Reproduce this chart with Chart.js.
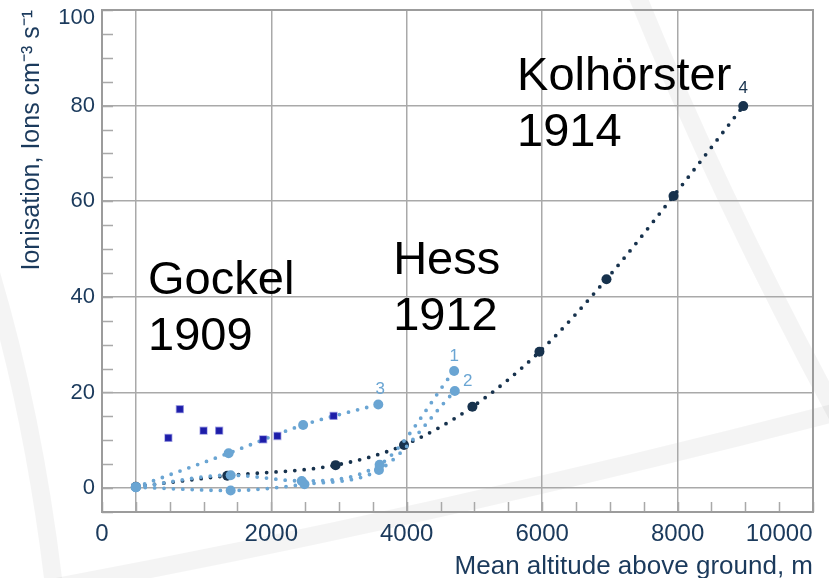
<!DOCTYPE html>
<html>
<head>
<meta charset="utf-8">
<script src="https://cdn.jsdelivr.net/npm/chart.js@4/dist/chart.umd.min.js"></script>
<style>
  html, body { margin: 0; padding: 0; background: #ffffff; }
  #wrap { width: 829px; height: 578px; position: relative; }
</style>
</head>
<body>
<div id="wrap"><canvas id="chart" width="829" height="578"></canvas></div>
<script>
// Balloon measurements of ionisation vs. mean altitude
const gockelAlt = [480, 650, 1000, 1230, 1880, 2090, 2920];
const gockelIon = [10.5, 16.5, 12.0, 12.0, 10.2, 10.9, 15.1];

const hess1Alt = [0, 1400, 2450, 3600, 4700];
const hess1Ion = [0.2, 2.7, 1.5, 4.9, 24.5];

const hess2Alt = [0, 1400, 2490, 3590, 4710];
const hess2Ion = [0.2, -0.5, 0.8, 3.8, 20.3];

const hess3Alt = [0, 1370, 2470, 3580];
const hess3Ion = [0.2, 7.3, 13.2, 17.5];

const kolAlt = [0, 1350, 2950, 3960, 4970, 5960, 6950, 7940, 8970];
const kolIon = [0.3, 2.6, 4.8, 9.0, 17.0, 28.5, 43.7, 61.1, 79.9];

const xTickLabels = ['0', '2000', '4000', '6000', '8000', '10000'];
const yTickLabels = ['0', '20', '40', '60', '80', '100'];

const seriesTags = ['1', '2', '3', '4'];
const groupNames = [['Gockel', '1909'], ['Hess', '1912'], ['Kolhörster', '1914']];

// colours and fonts
const DARK = '#17324d';
const LIGHT = '#6aa5d3';
const GOCKEL = '#1d1da8';
const AXIS_TEXT = '#1b3a5c';
const GRID = '#a9a9a9';
const FONT = '"Liberation Sans", Arial, Helvetica, sans-serif';
const NONE = 'rgba(0,0,0,0)';

const toPoints = (xs, ys) => xs.map((x, i) => ({ x: x, y: ys[i] }));

const dottedSeries = (label, xs, ys, color) => ({
  label: label,
  data: toPoints(xs, ys),
  showLine: true,
  borderColor: color,
  backgroundColor: color,
  borderWidth: 3.8,
  borderDash: [0, 9.4],
  borderCapStyle: 'round',
  cubicInterpolationMode: 'monotone',
  pointRadius: 5,
  pointHoverRadius: 5,
  pointBackgroundColor: color,
  pointBorderWidth: 0
});

// x value under each x tick label: the end labels sit at the frame edges,
// "0" centred on the left edge and "10000" ending at the right edge
const xLabelValue = (i, scale) => {
  if (i === 0) return scale.min;
  if (i === xTickLabels.length - 1) return scale.max - 500;
  return i * 2000;
};

// faint watermark arcs behind the plot, minor ticks, frame and annotations
const decorations = {
  id: 'decorations',
  beforeDraw(chart) {
    const ctx = chart.ctx;
    ctx.save();
    ctx.fillStyle = '#ffffff';
    ctx.fillRect(0, 0, chart.width, chart.height);
    ctx.strokeStyle = 'rgba(0,0,0,0.045)';
    ctx.lineWidth = 18;
    ctx.lineCap = 'butt';
    ctx.beginPath();
    ctx.moveTo(40, 590);
    ctx.quadraticCurveTo(420, 520, 845, 410);
    ctx.stroke();
    ctx.beginPath();
    ctx.moveTo(-10, 270);
    ctx.quadraticCurveTo(35, 420, 55, 595);
    ctx.stroke();
    ctx.beginPath();
    ctx.moveTo(635, -10);
    ctx.quadraticCurveTo(720, 200, 845, 430);
    ctx.stroke();
    ctx.restore();
  },
  beforeDatasetsDraw(chart) {
    const ctx = chart.ctx;
    const a = chart.chartArea;
    const xs = chart.scales.x, ys = chart.scales.y;
    ctx.save();
    ctx.strokeStyle = GRID;
    ctx.lineWidth = 1.5;
    ctx.beginPath();
    for (let v = xs.min; v <= xs.max; v += 500) {
      const px = Math.round(xs.getPixelForValue(v)) + 0.5;
      ctx.moveTo(px, a.bottom);
      ctx.lineTo(px, a.bottom - 10);
    }
    for (let v = ys.min; v <= ys.max; v += 5) {
      const py = Math.round(ys.getPixelForValue(v)) + 0.5;
      ctx.moveTo(a.left, py);
      ctx.lineTo(a.left + 11, py);
    }
    ctx.stroke();
    ctx.strokeStyle = '#9c9c9c';
    ctx.lineWidth = 2;
    ctx.strokeRect(a.left, a.top, a.right - a.left, a.bottom - a.top);
    ctx.restore();
  },
  afterDatasetsDraw(chart) {
    const ctx = chart.ctx;
    const xs = chart.scales.x, ys = chart.scales.y;
    const P = (x, y) => [xs.getPixelForValue(x), ys.getPixelForValue(y)];
    ctx.save();
    ctx.textAlign = 'center';
    ctx.textBaseline = 'alphabetic';

    // series tags next to the last point of each series
    ctx.font = '17px ' + FONT;
    ctx.fillStyle = LIGHT;
    let p = P(hess1Alt[hess1Alt.length - 1], hess1Ion[hess1Ion.length - 1]);
    ctx.fillText(seriesTags[0], p[0], p[1] - 10);
    p = P(hess2Alt[hess2Alt.length - 1], hess2Ion[hess2Ion.length - 1]);
    ctx.fillText(seriesTags[1], p[0] + 13, p[1] - 5);
    p = P(hess3Alt[hess3Alt.length - 1], hess3Ion[hess3Ion.length - 1]);
    ctx.fillText(seriesTags[2], p[0] + 2, p[1] - 10);
    ctx.font = '17px ' + FONT;
    ctx.fillStyle = DARK;
    p = P(kolAlt[kolAlt.length - 1], kolIon[kolIon.length - 1]);
    ctx.fillText(seriesTags[3], p[0], p[1] - 13);

    // experiment names
    ctx.textAlign = 'left';
    ctx.fillStyle = '#000000';
    ctx.font = '47px ' + FONT;
    const anchors = [[180, 40.7], [3800, 44.7], [5630, 83.3]];
    groupNames.forEach((lines, i) => {
      const q = P(anchors[i][0], anchors[i][1]);
      lines.forEach((t, j) => ctx.fillText(t, q[0], q[1] + j * 56));
    });
    ctx.restore();
  }
};

new Chart(document.getElementById('chart'), {
  type: 'scatter',
  data: {
    datasets: [
      {
        label: 'Gockel 1909',
        data: toPoints(gockelAlt, gockelIon),
        pointStyle: 'rect',
        pointRadius: 4.8,
        pointHoverRadius: 4.8,
        pointBackgroundColor: GOCKEL,
        pointBorderColor: 'rgba(70,70,200,0.4)',
        pointBorderWidth: 1.5
      },
      dottedSeries('Hess 1', hess1Alt, hess1Ion, LIGHT),
      dottedSeries('Hess 2', hess2Alt, hess2Ion, LIGHT),
      dottedSeries('Hess 3', hess3Alt, hess3Ion, LIGHT),
      dottedSeries('Kolhörster 1914', kolAlt, kolIon, DARK)
    ]
  },
  options: {
    responsive: false,
    animation: false,
    devicePixelRatio: 1,
    layout: { padding: { left: 0, top: 10, right: 16, bottom: 0 } },
    plugins: { legend: { display: false }, tooltip: { enabled: false } },
    scales: {
      x: {
        type: 'linear',
        min: -500,
        max: 10000,
        afterBuildTicks(scale) {
          const t = [];
          for (let v = scale.min; v <= scale.max; v += 500) t.push({ value: v });
          scale.ticks = t;
        },
        afterFit(scale) {
          scale.height = 66;
          scale.paddingLeft = 0;
          scale.paddingRight = 0;
        },
        ticks: {
          autoSkip: false,
          maxRotation: 0,
          minRotation: 0,
          padding: 8,
          color: AXIS_TEXT,
          font: { family: FONT, size: 24 },
          callback(value) {
            const i = xTickLabels.findIndex((_, k) => xLabelValue(k, this) === value);
            return i >= 0 ? xTickLabels[i] : '';
          }
        },
        grid: {
          drawTicks: false,
          lineWidth: 1.5,
          color: (c) => (c.tick && c.tick.value >= 0 && c.tick.value < 10000 && c.tick.value % 2000 === 0) ? GRID : NONE
        },
        border: { display: false },
        title: {
          display: true,
          text: 'Mean altitude above ground, m',
          align: 'end',
          color: AXIS_TEXT,
          font: { family: FONT, size: 26 },
          padding: { top: 0, bottom: -4 }
        }
      },
      y: {
        type: 'linear',
        min: -5,
        max: 100,
        afterBuildTicks(scale) {
          const t = [];
          for (let v = scale.min; v <= scale.max; v += 5) t.push({ value: v });
          scale.ticks = t;
        },
        afterFit(scale) {
          scale.width = 102;
          scale.paddingTop = 0;
          scale.paddingBottom = 0;
        },
        ticks: {
          autoSkip: false,
          padding: 7,
          color: AXIS_TEXT,
          font: (c) => ({ family: FONT, size: 22, lineHeight: (c.tick && c.tick.value === 100) ? 0.75 : 1.2 }),
          // the top label is pushed one half line below the frame edge
          callback: (value) => {
            const s = String(value);
            if (!yTickLabels.includes(s)) return '';
            return s === yTickLabels[yTickLabels.length - 1] ? ['', s] : s;
          }
        },
        grid: {
          drawTicks: false,
          lineWidth: 1.5,
          color: (c) => (c.tick && c.tick.value >= 0 && c.tick.value < 100 && c.tick.value % 20 === 0) ? GRID : NONE
        },
        border: { display: false },
        title: {
          display: true,
          text: 'Ionisation, Ions cm⁻³ s⁻¹',
          align: 'end',
          color: AXIS_TEXT,
          font: { family: FONT, size: 25 },
          padding: { top: 17, bottom: 0 }
        }
      }
    }
  },
  plugins: [decorations]
});
</script>
</body>
</html>
